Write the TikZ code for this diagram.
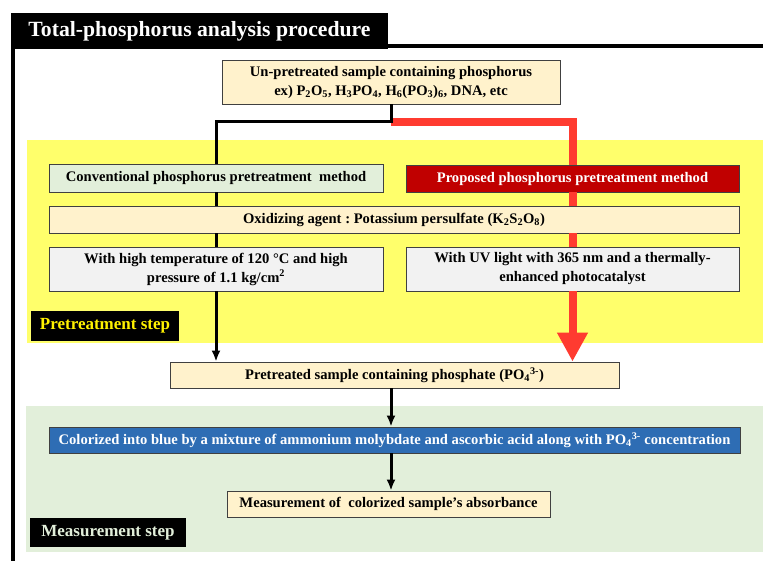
\documentclass[tikz,border=0pt]{standalone}
\usepackage{fontspec}
\setmainfont{Liberation Serif}
\usetikzlibrary{arrows.meta}
\frenchspacing
\definecolor{beige}{HTML}{FFF2CC}
\definecolor{paleGreen}{HTML}{E2EFDA}
\definecolor{paleGray}{HTML}{F2F2F2}
\definecolor{stepYellow}{HTML}{FFFF6B}
\definecolor{darkRed}{HTML}{C00000}
\definecolor{lineRed}{HTML}{FF3B30}
\definecolor{deepBlue}{HTML}{2E6DB4}
\begin{document}
\begin{tikzpicture}[x=1pt, y=-1pt, >={Latex[length=11pt,width=9pt]},
    box/.style={draw=black!75, line width=0.8pt, inner sep=0pt, align=center,
        font=\bfseries\fontsize{14.6}{19}\selectfont},
    tag/.style={fill=black, inner sep=0pt, font=\bfseries\fontsize{17}{20}\selectfont},
    blackline/.style={line width=3pt},
    redline/.style={draw=lineRed, line width=8pt}]
\useasboundingbox (0,0) rectangle (763,561);
% step areas and frame
\fill[stepYellow] (27,140) rectangle (763,343);
\fill[paleGreen] (26,406) rectangle (763,552);
\draw[line width=4pt] (763,46) -- (13,46) -- (13,561);
\node[tag, text=white, minimum width=377pt, minimum height=36pt,
    font=\bfseries\fontsize{21.7}{26}\selectfont] (title) at (199.5,31) {Total-phosphorus analysis procedure};
% boxes
\node[box, fill=beige, minimum width=338pt, minimum height=44pt] (sample) at (391,82)
    {Un-pretreated sample containing phosphorus\\ex) P\textsubscript{2}O\textsubscript{5}, H\textsubscript{3}PO\textsubscript{4}, H\textsubscript{6}(PO\textsubscript{3})\textsubscript{6}, DNA, etc};
\node[box, fill=paleGreen, minimum width=334pt, minimum height=28pt] (conv) at (216,178)
    {Conventional phosphorus pretreatment\ \ method};
\node[box, fill=darkRed, text=white, minimum width=333pt, minimum height=27pt] (prop) at (572.5,178.5)
    {Proposed phosphorus pretreatment method};
\node[box, fill=beige, minimum width=690pt, minimum height=27pt] (oxid) at (394,219.5)
    {Oxidizing agent : Potassium persulfate (K\textsubscript{2}S\textsubscript{2}O\textsubscript{8})};
\node[box, fill=paleGray, minimum width=334pt, minimum height=44pt] (temp) at (216,269)
    {With high temperature of 120 °C and high\\pressure of 1.1 kg/cm\textsuperscript{2}};
\node[box, fill=paleGray, minimum width=333pt, minimum height=44pt] (uv) at (572.5,269)
    {With UV light with 365 nm and a thermally-\\enhanced photocatalyst};
\node[tag, text=yellow, minimum width=148pt, minimum height=30pt] (pretag) at (105,326) {Pretreatment step};
\node[box, fill=beige, minimum width=449pt, minimum height=26pt] (treated) at (394.5,375)
    {Pretreated sample containing phosphate (PO\textsubscript{4}\textsuperscript{3-})};
\node[box, fill=deepBlue, text=white, minimum width=691pt, minimum height=26pt] (blue) at (394.5,440)
    {Colorized into blue by a mixture of ammonium molybdate and ascorbic acid along with PO\textsubscript{4}\textsuperscript{3-} concentration};
\node[box, fill=beige, minimum width=323pt, minimum height=26pt] (meas) at (388.5,504)
    {Measurement of\ \ colorized sample’s absorbance};
\node[tag, text=paleGreen, minimum width=156pt, minimum height=29pt] (meastag) at (108,532.5) {Measurement step};
% connectors
\coordinate (split) at (391,122);
\draw[redline] (split) -- (split -| prop) -- (prop.north);
\draw[redline] (prop.south) -- (prop.south |- oxid.north);
\draw[redline] (oxid.south -| prop) -- (uv.north);
\draw[redline, -{Triangle[width=29pt,length=29pt]}] (uv.south) -- (uv.south |- treated.north);
\draw[blackline] (sample.south) -- (split) -- (split -| conv) -- (conv.north);
\draw[blackline] (conv.south) -- (conv.south |- oxid.north);
\draw[blackline] (oxid.south -| conv) -- (temp.north);
\draw[blackline, ->] (temp.south) -- (temp.south |- treated.north);
\draw[blackline, ->] (treated.south -| sample) -- (blue.north -| sample);
\draw[blackline, ->] (blue.south -| sample) -- (meas.north -| sample);
\end{tikzpicture}
\end{document}
